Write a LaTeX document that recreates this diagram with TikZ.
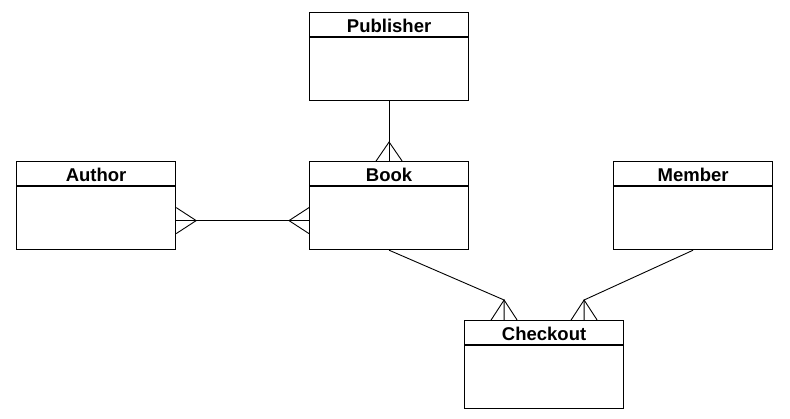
\documentclass[tikz,border=0pt]{standalone}
\usepackage{fontspec}
\setmainfont{Liberation Sans}
\usetikzlibrary{calc}
\begin{document}
\begin{tikzpicture}[x=1pt,y=-1pt,line width=1.2pt,
  entity/.style={draw,rectangle,minimum width=159pt,minimum height=88pt,anchor=north west,inner sep=0pt},
  etitle/.style={font=\fontsize{18.5}{21}\selectfont\bfseries,anchor=center,inner sep=0pt},
  rel/.style={line width=0.9pt}]
\useasboundingbox (0,0) rectangle (790,418);
% entities
\node[entity] (pub) at (309,12) {};
\node[entity] (book) at (309,161) {};
\node[entity] (auth) at (16,161) {};
\node[entity] (mem) at (613,161) {};
\node[entity] (chk) at (464,320) {};
% headers
\foreach \e/\t in {pub/Publisher,book/Book,auth/Author,mem/Member,chk/Checkout}{
  \draw ($(\e.north west)+(0,25)$) -- ($(\e.north east)+(0,25)$);
  \node[etitle] (\e-t) at ($(\e.north)+(0,13.5)$) {\t};
}
% Publisher - Book
\coordinate (pbA) at ($(book.north)+(0,-19)$);
\draw[rel] (pub.south) -- (book.north);
\draw[rel] ($(book.north)+(-13,0)$) -- (pbA) -- ($(book.north)+(13,0)$);
% Author - Book
\coordinate (abL) at ($(auth.east)+(0,15)$);
\coordinate (abR) at ($(book.west)+(0,15)$);
\coordinate (abLA) at ($(abL)+(20,0)$);
\coordinate (abRA) at ($(abR)+(-20,0)$);
\draw[rel] (abL) -- (abR);
\draw[rel] ($(abL)+(0,-13)$) -- (abLA) -- ($(abL)+(0,13)$);
\draw[rel] ($(abR)+(0,-13)$) -- (abRA) -- ($(abR)+(0,13)$);
% Book - Checkout
\coordinate (bcB) at ($(chk.north)+(-40,0)$);
\coordinate (bcA) at ($(bcB)+(0,-20)$);
\draw[rel] (book.south) -- (bcA) -- (bcB);
\draw[rel] ($(bcB)+(-13,0)$) -- (bcA) -- ($(bcB)+(13,0)$);
% Member - Checkout
\coordinate (mcB) at ($(chk.north)+(40,0)$);
\coordinate (mcA) at ($(mcB)+(0,-20)$);
\draw[rel] (mem.south) -- (mcA) -- (mcB);
\draw[rel] ($(mcB)+(-13,0)$) -- (mcA) -- ($(mcB)+(13,0)$);
\end{tikzpicture}
\end{document}
